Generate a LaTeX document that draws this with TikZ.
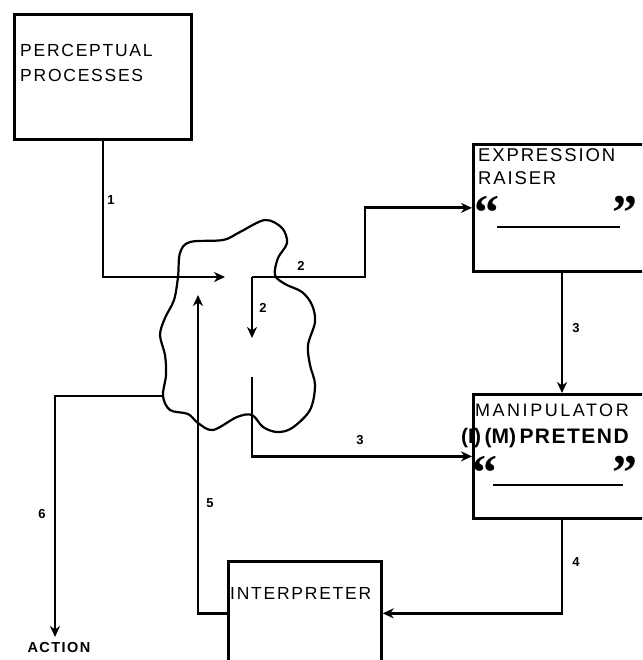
\documentclass[tikz,border=0pt]{standalone}
\usepackage{fontspec}
\usetikzlibrary{arrows.meta}
\newfontfamily\lbl[LetterSpace=10]{Liberation Sans}
\newfontfamily\lblwide[LetterSpace=14]{Liberation Sans}
\newfontfamily\numf{Liberation Sans}
\newfontfamily\qfont{Liberation Serif}
\tikzset{
  box/.style={draw, line width=2.7pt, anchor=north west, inner sep=0pt},
  txt/.style={anchor=west, inner sep=0pt, font=\lbl\fontsize{17.5}{17.5}\selectfont},
  num/.style={inner sep=0pt, font=\numf\bfseries\fontsize{13}{13}\selectfont},
  qt/.style={inner sep=0pt, font=\qfont\bfseries\fontsize{50}{50}\selectfont},
  arr/.style={line width=2.7pt, -{Stealth[length=11pt,width=10pt,inset=3.5pt]}},
  cloudline/.style={line width=2.2pt},
  uline/.style={line width=2.6pt}
}
\begin{document}
\begin{tikzpicture}[x=1pt,y=-1pt]
\useasboundingbox (0,0) rectangle (642,660);
\clip (0,0) rectangle (642,660);
% boxes
\node[box, minimum width=177pt, minimum height=125pt] (pp) at (13,13) {};
\node[box, minimum width=300pt, minimum height=127pt] (er) at (472,143) {};
\node[box, minimum width=300pt, minimum height=124pt] (mn) at (472,393) {};
\node[box, minimum width=153pt, minimum height=104pt] (ip) at (227,560) {};
% texts
\node[txt] (pp1) at (20,50) {PERCEPTUAL};
\node[txt] (pp2) at (20,75) {PROCESSES};
\node[txt, font=\lbl\fontsize{18.5}{18.5}\selectfont] (er1) at (478,155) {EXPRESSION};
\node[txt, font=\lbl\fontsize{18.5}{18.5}\selectfont] (er2) at (478,178) {RAISER};
\node[qt, anchor=north west] (erq1) at (474,196) {“};
\node[qt, anchor=north west] (erq2) at (612,196) {”};
\draw[uline] (497,227) -- (620,227);
\node[txt, font=\lblwide\fontsize{18}{18}\selectfont] (mn1) at (475,410) {MANIPULATOR};
\node[txt, font=\numf\bfseries\fontsize{21}{21}\selectfont] (mn2) at (461,438) {(I)\,(M)\,\addfontfeature{LetterSpace=7}PRETEND};
\node[qt, anchor=north west] (mnq1) at (472,456) {“};
\node[qt, anchor=north west] (mnq2) at (612,456) {”};
\draw[uline] (493,485) -- (623,485);
\node[txt] (ip1) at (230,593) {INTERPRETER};
\node[inner sep=0pt, font=\lbl\bfseries\fontsize{14.5}{14.5}\selectfont] (act) at (59,648) {ACTION};
% cloud
\draw[cloudline] plot[smooth cycle, tension=0.55] coordinates {
 (178,277) (180,253) (190,242) (223,240) (240,232) (265,220) (282,228) (287,243)
 (278,258) (275,275) (285,284) (302,292) (312,305) (315,322) (308,345) (310,365)
 (315,385) (310,410) (292,428) (277,432) (263,427) (252,415) (237,417) (213,430)
 (198,423) (188,414) (170,410) (163,396) (166,375) (165,355) (160,335) (165,318) (174,300)};
% coordinates
\coordinate (a1) at (225,277);
\coordinate (c2) at (252,277);
\coordinate (a2) at (252,338);
\coordinate (b2) at (365,277);
\coordinate (c3) at (252,377);
\coordinate (x562) at (562,0);
\coordinate (a5) at (198,295);
\coordinate (c6) at (163,396);
\coordinate (a6) at (55,637);
% connectors
\draw[arr] (pp.south) |- (a1);
\draw[arr] (c2) -- (b2) |- (er.west);
\draw[arr] (c2) -- (a2);
\draw[arr] (er.south -| x562) -- (mn.north -| x562);
\draw[arr] (c3) |- (mn.west);
\draw[arr] (mn.south -| x562) |- (ip.east);
\draw[arr] (ip.west) -| (a5);
\draw[arr] (c6) -| (a6);
% labels
\node[num] (n1) at (111,200) {1};
\node[num] (n2a) at (301,266) {2};
\node[num] (n2b) at (263,308) {2};
\node[num] (n3a) at (576,328) {3};
\node[num] (n3b) at (360,440) {3};
\node[num] (n4) at (576,562) {4};
\node[num] (n5) at (210,503) {5};
\node[num] (n6) at (42,514) {6};
\end{tikzpicture}
\end{document}
